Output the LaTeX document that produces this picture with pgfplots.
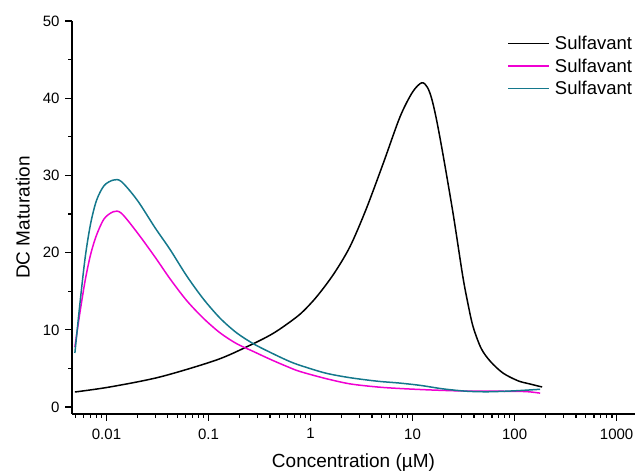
\documentclass[border=0pt]{standalone}
\usepackage{fontspec}
\setmainfont{Liberation Sans}
\usepackage{pgfplots}
\pgfplotsset{compat=1.18}
\definecolor{cmag}{RGB}{240,0,210}
\definecolor{cteal}{RGB}{20,120,140}

\begin{document}
\begin{tikzpicture}
\begin{axis}[
    scale only axis,
    width=563pt, height=393pt,
    xmode=log,
    xmin=0.00459, xmax=1514,
    ymin=-0.9, ymax=50,
    axis x line*=bottom,
    axis y line*=left,
    axis line style={line width=1.3pt},
    tick align=outside,
    major tick length=7pt,
    minor tick length=4pt,
    every tick/.style={black, line width=1.1pt},
    ytick={0,10,20,30,40,50},
    minor ytick={5,15,25,35,45},
    xtick={0.01,0.1,1,10,100,1000},
    xticklabels={0.01,0.1,1,10,100,1000},
    minor xtick={0.005,0.006,0.007,0.008,0.009,
        0.02,0.03,0.04,0.05,0.06,0.07,0.08,0.09,
        0.2,0.3,0.4,0.5,0.6,0.7,0.8,0.9,
        2,3,4,5,6,7,8,9,
        20,30,40,50,60,70,80,90,
        200,300,400,500,600,700,800,900},
    /pgf/number format/assume math mode=true,
    ticklabel style={font=\fontsize{15}{17}\selectfont},
    xticklabel style={yshift=-4pt},
    yticklabel style={xshift=-2pt},
    xlabel={Concentration (µM)},
    ylabel={DC Maturation},
    label style={font=\fontsize{19}{21}\selectfont},
    xlabel style={yshift=-8pt},
    ylabel style={yshift=6pt},
    clip=false,
    legend style={
        at={(1.004,0.972)}, anchor=north east,
        draw=none, fill=none,
        font=\fontsize{18.5}{20}\selectfont,
        row sep=3.5pt,
        /tikz/every odd column/.append style={column sep=3pt},
    },
    legend cell align=left,
    legend image code/.code={\draw[#1, line width=1.6pt] (0pt,0pt) -- (41pt,0pt);},
    every axis plot/.append style={line width=1.5pt, smooth},
]
\addplot[black] coordinates {
    (0.0049,1.95) (0.0108,2.6) (0.0335,3.9) (0.12,6.1) (0.255,8.0)
    (0.40,9.3) (0.54,10.4) (0.8,12.1) (1.15,14.3) (1.7,17.3) (2.44,20.8)
    (3.5,25.6) (5.17,31.6) (7.54,37.6) (10,40.8) (12.3,42.0)
    (14,41.4) (15.5,39.8) (17.3,37.0) (20,32.5) (25,25.0) (31,17.0)
    (35,13.3) (39.2,10.4) (47,7.6) (58,5.9) (77,4.4) (108,3.4)
    (140,3.0) (186,2.6)
};
\addplot[cmag] coordinates {
    (0.0049,7.8) (0.0055,12.3) (0.0062,16.5) (0.007,19.8) (0.008,22.3)
    (0.0095,24.4) (0.0117,25.3) (0.014,25.1) (0.02,22.6) (0.03,19.4)
    (0.042,16.6) (0.061,13.8) (0.089,11.5) (0.13,9.6) (0.189,8.2)
    (0.275,7.2) (0.40,6.2) (0.6,5.2) (0.79,4.6) (1.4,3.7) (2.44,3.0)
    (4.5,2.6) (7.54,2.4) (15.9,2.2) (33.9,2.07) (72,2.05) (130,2.0)
    (178,1.8)
};
\addplot[cteal] coordinates {
    (0.0049,7.0) (0.0055,13.5) (0.0062,19.5) (0.007,23.8) (0.008,26.8)
    (0.0095,28.7) (0.0117,29.4) (0.014,29.2) (0.02,26.8) (0.03,23.2)
    (0.042,20.4) (0.061,17.0) (0.089,14.0) (0.13,11.5) (0.189,9.6)
    (0.275,8.2) (0.40,7.1) (0.6,6.0) (0.79,5.4) (1.4,4.4) (2.44,3.8)
    (4.5,3.35) (7.54,3.1) (12,2.8) (20,2.35) (33.9,2.05) (55,1.98)
    (100,2.1) (178,2.3)
};
\legend{Sulfavant,Sulfavant,Sulfavant}
\end{axis}
\pgfresetboundingbox
\path (-72pt,-59pt) rectangle (563pt,414pt);
\end{tikzpicture}
\end{document}
